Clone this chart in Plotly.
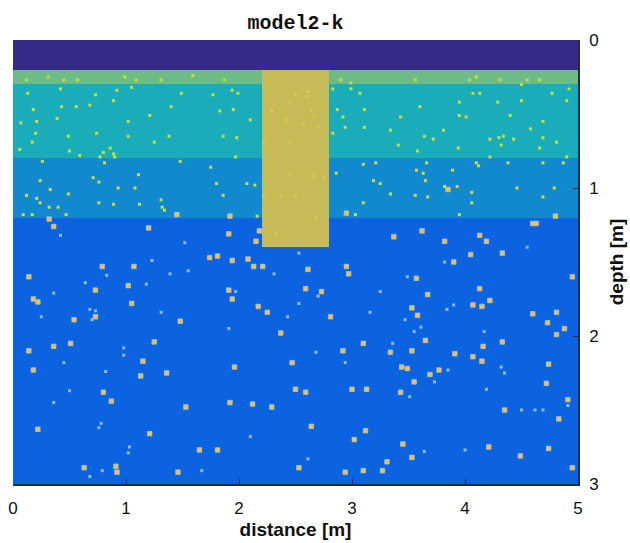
import plotly.graph_objects as go

# ---- layered model (distance edges, depth edges, layer index per cell) ----
x_edges = [0, 2.2, 2.8, 5]
depth_edges = [0, 0.2, 0.3, 0.8, 1.2, 1.4, 3.0]
layer_index = [
    [0, 0, 0],
    [1, 5, 1],
    [2, 5, 2],
    [3, 5, 3],
    [4, 5, 4],
    [4, 4, 4],
]
layer_colors = ["#352a87", "#6dbc86", "#1aacb8", "#1289cf", "#0b63e0", "#c7bb58"]

# ---- small inclusions in upper layers (yellow) ----
up_x = [0.31, 0.12, 0.45, 0.57, 0.99, 1.09, 1.31, 1.59, 1.87,
        0.42, 0.92, 1.05, 0.73, 1.49, 1.77, 1.94, 1.99, 0.13, 0.89, 0.18, 0.43, 0.56, 0.68,
        1.21, 1.40, 1.83, 1.95, 0.21, 0.39, 1.02, 2.10, 0.07, 0.20, 0.49, 0.74, 1.02, 1.38,
        1.86, 1.98, 0.17, 1.25, 0.06, 0.50, 0.80, 0.86, 0.89, 0.90, 0.77, 0.59, 1.97,
        0.26, 0.81, 1.48, 1.75, 1.11, 0.71, 0.24, 0.76, 0.93, 1.08, 0.33, 0.49, 0.12, 0.21,
        0.24, 0.32, 0.40, 0.76, 0.89, 1.12, 1.31, 1.32, 1.34, 1.80, 2.07, 2.14, 1.86,
        2.16, 0.09, 0.17, 0.47,
        2.90, 2.99, 3.56, 4.04, 4.10, 4.31, 4.50, 4.55, 4.66,
        2.83, 2.99, 3.07, 4.07, 4.13, 4.50, 4.77, 4.90, 4.92, 3.60, 3.95, 4.29, 2.87, 2.92,
        3.11, 3.43, 3.95, 4.01, 4.40, 4.69, 2.94, 3.11, 3.34, 3.81, 4.58, 2.83, 3.64, 3.72,
        4.22, 4.30, 4.34, 4.43, 4.69, 4.81, 3.41, 4.32, 4.66, 3.58, 3.94, 4.90, 4.22,
        2.86, 3.10, 3.21, 3.57, 3.63, 3.66, 3.89, 4.10, 4.12, 4.38, 4.69, 4.87, 3.19, 3.25,
        3.65, 3.82, 3.93, 3.34, 3.56, 3.67, 4.06, 4.46, 4.79, 3.10, 4.06, 4.69, 3.03, 3.95]
up_d = [0.25, 0.27, 0.27, 0.27, 0.25, 0.27, 0.27, 0.24, 0.27,
        0.33, 0.34, 0.32, 0.37, 0.36, 0.37, 0.34, 0.36, 0.36, 0.41, 0.47, 0.45, 0.45, 0.44,
        0.51, 0.45, 0.48, 0.47, 0.55, 0.53, 0.55, 0.54, 0.56, 0.63, 0.65, 0.63, 0.65, 0.65,
        0.65, 0.66, 0.69, 0.69, 0.74, 0.75, 0.76, 0.73, 0.77, 0.79, 0.79, 0.78, 0.79,
        0.82, 0.83, 0.82, 0.86, 0.91, 0.93, 0.95, 0.96, 1.00, 1.00, 1.01, 1.04, 1.05, 1.07,
        1.10, 1.13, 1.13, 1.10, 1.11, 1.11, 1.08, 1.13, 1.15, 0.97, 0.97, 0.98, 1.05,
        1.19, 1.18, 1.18, 1.18,
        0.27, 0.29, 0.27, 0.27, 0.25, 0.27, 0.30, 0.27, 0.27,
        0.33, 0.33, 0.36, 0.36, 0.36, 0.41, 0.36, 0.41, 0.33, 0.45, 0.42, 0.42, 0.47, 0.52,
        0.47, 0.52, 0.51, 0.52, 0.51, 0.55, 0.59, 0.59, 0.61, 0.61, 0.60, 0.63, 0.65, 0.67,
        0.67, 0.66, 0.65, 0.67, 0.66, 0.69, 0.71, 0.71, 0.73, 0.75, 0.73, 0.79, 0.79,
        0.90, 0.84, 0.83, 0.88, 0.90, 0.83, 0.88, 0.83, 0.85, 0.83, 0.83, 0.83, 0.95, 0.97,
        0.95, 0.99, 0.99, 1.04, 1.05, 1.06, 1.03, 1.00, 1.00, 1.10, 1.10, 1.06, 1.18, 1.18]

# ---- faint inclusions inside the block ----
blk_x = [2.29, 2.42, 2.45, 2.50, 2.22, 2.45, 2.37, 2.22, 2.50, 2.45,
         2.61, 2.60, 2.64, 2.67, 2.57, 2.70, 2.66, 2.75, 2.68, 2.33]
blk_d = [0.48, 0.54, 0.42, 0.37, 0.70, 0.69, 1.05, 1.05, 1.05, 0.91,
         0.35, 0.38, 0.48, 0.51, 0.57, 0.59, 0.92, 0.93, 1.20, 1.31]

# ---- strong inclusions (orange) ----
or_x = [1.45, 1.92, 2.95, 3.85,
        0.32, 0.36, 1.20, 1.91, 2.18, 2.15, 1.74, 1.81, 1.94, 2.08, 2.13, 2.21, 0.79, 1.07,
        0.14, 1.02, 0.73, 0.18, 0.22, 1.05, 1.91, 1.94, 2.17, 2.25, 0.73, 0.54, 1.48, 2.37,
        1.25, 0.51, 0.36,
        4.60, 4.63, 4.80, 3.62, 3.37, 3.82, 4.13, 4.19, 4.05, 4.33, 3.90, 2.95, 2.97, 2.61,
        3.57, 4.95, 2.59, 2.73, 3.67, 4.13, 4.22, 4.15, 4.07, 3.53, 2.81, 3.58, 4.60, 4.81,
        4.73, 4.88, 4.81, 3.65, 4.33, 3.10, 4.16,
        0.14, 1.15, 0.18, 1.13, 1.36, 1.96, 2.47, 2.50, 0.80, 0.87, 1.53, 1.92, 2.12, 2.29,
        0.22, 1.21, 1.65, 1.81, 0.63, 0.91, 0.92, 1.46, 2.53,
        2.92, 3.34, 3.53, 3.91, 4.07, 4.15, 4.74, 3.44, 3.49, 3.69, 3.77, 3.55, 4.72, 2.59,
        3.00, 3.13, 3.43, 4.91, 4.35, 4.83, 2.64, 3.12, 3.02, 3.45, 3.53, 4.21, 4.49, 4.74,
        3.31, 2.94, 3.10, 3.27, 4.95]
or_d = [1.18, 1.19, 1.17, 1.01,
        1.21, 1.26, 1.27, 1.31, 1.29, 1.36, 1.47, 1.46, 1.49, 1.48, 1.53, 1.53, 1.53, 1.53,
        1.60, 1.66, 1.69, 1.75, 1.77, 1.78, 1.69, 1.75, 1.80, 1.84, 1.87, 1.89, 1.90, 1.98,
        2.04, 2.05, 2.07,
        1.24, 1.24, 1.19, 1.29, 1.33, 1.36, 1.32, 1.36, 1.45, 1.44, 1.50, 1.53, 1.58, 1.55,
        1.61, 1.60, 1.68, 1.70, 1.72, 1.68, 1.76, 1.80, 1.79, 1.81, 1.87, 1.86, 1.85, 1.84,
        1.91, 1.95, 1.99, 2.03, 2.04, 2.05, 2.07,
        2.10, 2.17, 2.23, 2.27, 2.25, 2.21, 2.18, 2.36, 2.38, 2.44, 2.48, 2.45, 2.46, 2.48,
        2.63, 2.66, 2.77, 2.77, 2.89, 2.88, 2.92, 2.92, 2.89,
        2.10, 2.11, 2.10, 2.12, 2.14, 2.17, 2.19, 2.21, 2.22, 2.26, 2.23, 2.31, 2.32, 2.38,
        2.36, 2.36, 2.38, 2.43, 2.50, 2.56, 2.61, 2.64, 2.70, 2.73, 2.82, 2.75, 2.81, 2.76,
        2.85, 2.92, 2.91, 2.91, 2.89]

# ---- weak inclusions (pale) in lower layer ----
pl_x = [0.42, 1.52, 2.31, 1.23, 0.83, 1.55, 1.39, 0.64, 1.18, 0.36, 1.97, 2.43, 0.68,
        0.73, 0.70, 0.25, 1.31, 1.91, 0.98, 2.53, 2.53,
        4.55, 3.82, 3.49, 2.70, 3.25, 3.90, 3.84, 3.16, 3.47, 3.61, 3.55, 4.17, 3.36,
        0.98, 0.45, 0.82, 0.50, 0.36, 0.78, 0.76, 2.10, 1.03, 1.02, 0.68, 0.79, 1.67,
        2.68, 2.94, 3.85, 4.32, 4.35, 3.73, 3.51, 4.19, 4.91, 4.50, 4.62, 4.69, 3.64, 4.00,
        2.61]
pl_d = [1.32, 1.37, 1.58, 1.49, 1.59, 1.56, 1.58, 1.64, 1.65, 1.71, 1.70, 1.87, 1.82,
        1.83, 1.89, 1.87, 1.84, 1.95, 2.08, 1.44, 1.78,
        1.40, 1.50, 1.60, 1.73, 1.70, 1.79, 1.82, 1.84, 1.89, 1.94, 1.97, 1.97, 2.05,
        2.13, 2.18, 2.24, 2.37, 2.45, 2.59, 2.62, 2.68, 2.75, 2.79, 2.95, 2.91, 2.91,
        2.11, 2.18, 2.23, 2.21, 2.25, 2.31, 2.41, 2.36, 2.47, 2.50, 2.50, 2.50, 2.78, 2.77,
        2.83]

x_ticks = [0, 1, 2, 3, 4, 5]
depth_ticks = [0, 1, 2, 3]

n = len(layer_colors) - 1
colorscale = []
for i, c in enumerate(layer_colors):
    colorscale.append([i / n, c])

fig = go.Figure()
fig.add_trace(go.Heatmap(
    x=x_edges, y=depth_edges, z=layer_index,
    zmin=0, zmax=n, colorscale=colorscale, showscale=False,
    hoverinfo="skip", xgap=0, ygap=0,
))
fig.add_trace(go.Scatter(
    x=blk_x, y=blk_d, mode="markers",
    marker=dict(symbol="square", size=2.5, color="#dccf4e", line=dict(width=0)),
    hoverinfo="skip", showlegend=False,
))
fig.add_trace(go.Scatter(
    x=up_x, y=up_d, mode="markers",
    marker=dict(symbol="square", size=3, color="#c9e03a", line=dict(width=0)),
    hoverinfo="skip", showlegend=False,
))
fig.add_trace(go.Scatter(
    x=pl_x, y=pl_d, mode="markers",
    marker=dict(symbol="square", size=3, color="#8fbbe0", line=dict(width=0)),
    hoverinfo="skip", showlegend=False,
))
fig.add_trace(go.Scatter(
    x=or_x, y=or_d, mode="markers",
    marker=dict(symbol="square", size=4.5, color="#f8be3c",
                line=dict(width=0.8, color="#a8c4dc")),
    hoverinfo="skip", showlegend=False,
))

axis_font = dict(family="Liberation Sans, Arial, sans-serif", size=17, color="#111111")
title_font = dict(family="Liberation Sans, Arial, sans-serif", size=19, color="#111111")

fig.update_layout(
    width=630, height=543,
    margin=dict(l=13, r=52, t=40, b=59),
    paper_bgcolor="white", plot_bgcolor="white",
    title=dict(text="<b>model2-k</b>", x=0.469, xanchor="center",
               y=1 - 22 / 543, yref="container", yanchor="middle",
               font=dict(family="Liberation Mono, Courier New, monospace", size=20, color="#111111")),
    xaxis=dict(range=[0, 5], tickvals=x_ticks, ticks="inside", ticklen=5,
               tickcolor="#2a2a3a", showline=True, linecolor="#2a2a3a", linewidth=1.5,
               showgrid=False, zeroline=False, tickfont=axis_font, ticklabelstandoff=8,
               automargin=False,
               title=dict(text="<b>distance [m]</b>", font=title_font, standoff=6)),
    yaxis=dict(range=[3, 0], side="right", tickvals=depth_ticks, ticks="inside",
               ticklen=5, tickcolor="#2a2a3a", showline=True, linecolor="#2a2a3a",
               linewidth=1.5, showgrid=False, zeroline=False, tickfont=axis_font,
               ticklabelstandoff=6, automargin=False,
               title=dict(text="<b>depth [m]</b>", font=title_font, standoff=12)),
)

fig.write_html("out.html")
